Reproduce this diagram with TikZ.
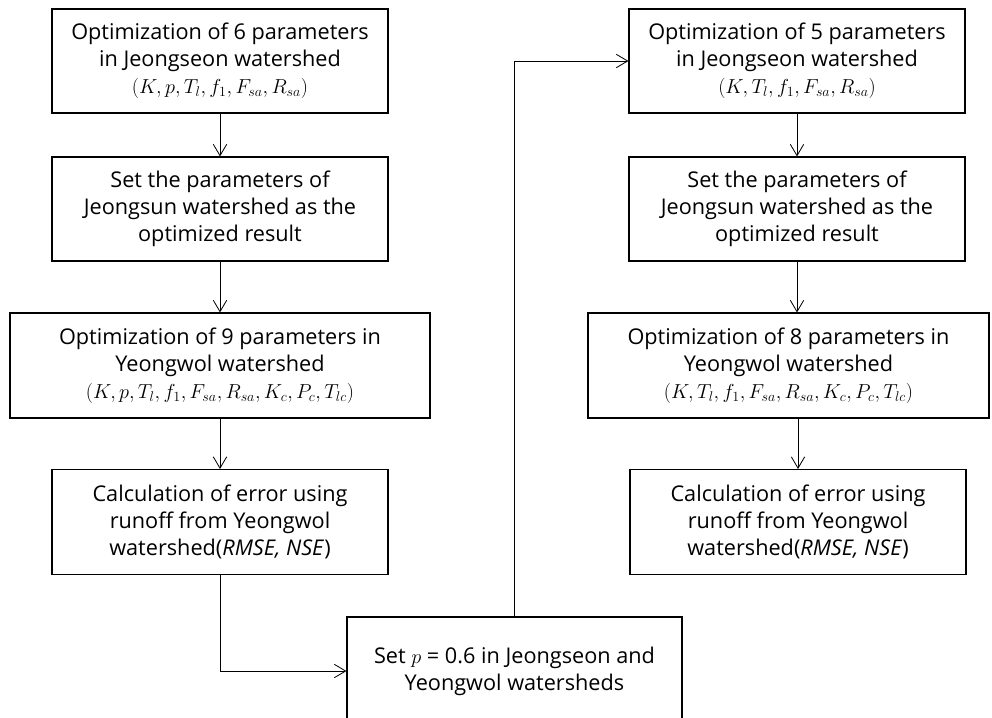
\documentclass[tikz,border=0pt]{standalone}
\usepackage{fontspec}
\setmainfont{Open Sans}
\usetikzlibrary{arrows.meta}

\begin{document}
\begin{tikzpicture}[x=0.03cm,y=-0.03cm,
  stepbox/.style={shape=rectangle,draw,line width=0.9pt,align=center,inner sep=0pt,
    minimum width=10.08cm,minimum height=3.12cm,font=\fontsize{18.5}{23}\selectfont},
  flow/.style={->,line width=0.7pt},
  >={Straight Barb[length=3.4mm,width=4mm]}]
\useasboundingbox (0,0) rectangle (992,717);

% left column: 6 / 9 parameters
\node[stepbox] (opt6) at (220,61) {Optimization of 6 parameters\\ in Jeongseon watershed\\ $(K,p,T_l,f_1,F_{sa},R_{sa})$};
\node[stepbox] (setL) at (220,209) {Set the parameters of\\ Jeongsun watershed as the\\ optimized result};
\node[stepbox,minimum width=12.6cm,minimum height=3.15cm] (opt9) at (220,365.5) {Optimization of 9 parameters in\\ Yeongwol watershed\\ $(K,p,T_l,f_1,F_{sa},R_{sa},K_c,P_c,T_{lc})$};
\node[stepbox,minimum height=3.15cm] (errL) at (220,522) {Calculation of error using\\ runoff from Yeongwol\\ watershed(\textit{RMSE, NSE})};

% fixing p
\node[stepbox,minimum width=10.05cm,minimum height=3.24cm] (setp) at (514.5,671) {Set $p$ = 0.6 in Jeongseon and\\ Yeongwol watersheds};

% right column: 5 / 8 parameters
\node[stepbox] (opt5) at (797,61) {Optimization of 5 parameters\\ in Jeongseon watershed\\ $(K,T_l,f_1,F_{sa},R_{sa})$};
\node[stepbox] (setR) at (797,209) {Set the parameters of\\ Jeongsun watershed as the\\ optimized result};
\node[stepbox,minimum width=12.03cm,minimum height=3.15cm] (opt8) at (788.5,365.5) {Optimization of 8 parameters in\\ Yeongwol watershed\\ $(K,T_l,f_1,F_{sa},R_{sa},K_c,P_c,T_{lc})$};
\node[stepbox,minimum height=3.15cm] (errR) at (798,522) {Calculation of error using\\ runoff from Yeongwol\\ watershed(\textit{RMSE, NSE})};

\draw[flow] (opt6) -- (setL);
\draw[flow] (setL) -- (opt9);
\draw[flow] (opt9) -- (errL);
\draw[flow] (errL.south) |- (setp.west);
\draw[flow] (setp.north) |- (opt5.west);
\draw[flow] (opt5) -- (setR);
\draw[flow] (setR.south) -- (setR.south |- opt8.north);
\draw[flow] (opt8.south -| errR.north) -- (errR.north);
\end{tikzpicture}
\end{document}
